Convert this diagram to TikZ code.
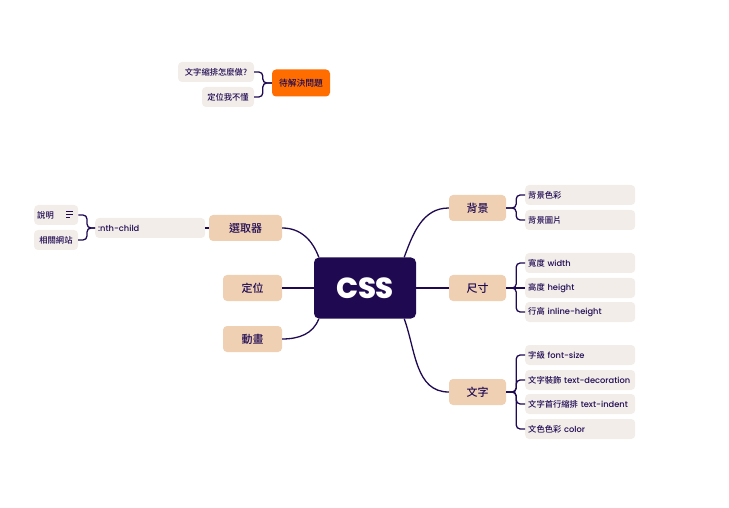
\documentclass[tikz,border=0pt]{standalone}
\usepackage{fontspec}
\setmainfont{Noto Sans CJK TC}[UprightFont={* Medium}]
\newfontfamily\pop{Poppins}[UprightFont={* Medium}]
\definecolor{ink}{HTML}{1F0A52}
\definecolor{peach}{HTML}{EFD0B3}
\definecolor{paper}{HTML}{F2EDE9}
\definecolor{warn}{HTML}{FF6D00}

\tikzstyle{root}   = [fill=ink, text=white, rounded corners=5pt, minimum width=102pt, minimum height=61pt, font=\pop\bfseries\fontsize{29}{29}\selectfont]
\tikzstyle{topic}  = [fill=peach, text=ink, rounded corners=4pt, minimum height=26pt, inner sep=0pt, font=\fontsize{11}{11}\selectfont]
\tikzstyle{leaf}   = [fill=paper, text=ink, rounded corners=4pt, minimum height=20pt, inner xsep=3pt, inner ysep=0pt, font=\fontsize{8.3}{8.3}\selectfont]
\tikzstyle{wide}   = [leaf, anchor=west, text width=104pt, align=left]
\tikzstyle{link}   = [draw=ink, line width=1.3pt]

\begin{document}
\begin{tikzpicture}[x=1pt, y=1pt]
  \useasboundingbox (0,0) rectangle (729,507);
  % centre and main topics
  \node[root] (css) at (365,219) {CSS};
  \node[topic, minimum width=73pt] (sel)  at (245.5,279) {選取器};
  \node[topic, minimum width=59pt] (pos)  at (252.5,219) {定位};
  \node[topic, minimum width=59pt] (anim) at (252.5,168) {動畫};
  \node[topic, minimum width=57pt] (bg)   at (477.5,299) {背景};
  \node[topic, minimum width=57pt] (dim)  at (477.5,219) {尺寸};
  \node[topic, minimum width=57pt] (txt)  at (477.5,115) {文字};

  % leaves on the right
  \node[wide] (bgcolor) at (525,312) {背景色彩};
  \node[wide] (bgimage) at (525,287) {背景圖片};
  \node[wide] (wdt)     at (525,244) {寬度 {\pop width}};
  \node[wide] (hgt)     at (525,219) {高度 {\pop height}};
  \node[wide] (lhgt)    at (525,195) {行高 {\pop inline-height}};
  \node[wide] (fsize)   at (525,152) {字級 {\pop font-size}};
  \node[wide] (tdeco)   at (525,127) {文字裝飾 {\pop text-decoration}};
  \node[wide] (tind)    at (525,103) {文字首行縮排 {\pop text-indent}};
  \node[wide] (tcol)    at (525,78)  {文色色彩 {\pop color}};

  % selector branch
  \node[wide] (nth) at (95,279) {\pop :nth-child};
  \node[leaf, anchor=west, text width=38pt, align=left] (note)  at (34,292) {說明};
  \node[leaf, minimum width=44pt] (sites) at (56,267) {相關網站};
  \draw[ink, line width=0.6pt] (66,296) -- (73,296) (66,293) -- (73,293) (66,290) -- (70,290);

  % open questions
  \node[topic, fill=warn, minimum width=58pt, minimum height=27pt, font=\fontsize{8.8}{8.8}\selectfont] (todo) at (301,424) {待解決問題};
  \node[leaf, minimum width=76pt] (q1) at (216,435) {文字縮排怎麼做?};
  \node[leaf, minimum width=52pt] (q2) at (228,410) {定位我不懂};

  % connectors
  \draw[link] (sel.east) to[out=0, in=110] ([xshift=5pt]css.north west);
  \draw[link] (pos.east) -- (css.west);
  \draw[link] (anim.east) to[out=0, in=-110] ([xshift=5pt]css.south west);
  \draw[link] (bg.west) to[out=180, in=70] ([xshift=-12pt]css.north east);
  \draw[link] (dim.west) -- (css.east);
  \draw[link] (txt.west) to[out=180, in=-70] ([xshift=-12pt]css.south east);

  \draw[link, rounded corners=4pt] (bg.east) -- ++(10,0) |- (bgcolor.west);
  \draw[link, rounded corners=4pt] (bg.east) -- ++(10,0) |- (bgimage.west);
  \draw[link, rounded corners=4pt] (dim.east) -- ++(10,0) |- (wdt.west);
  \draw[link] (dim.east) -- (hgt.west);
  \draw[link, rounded corners=4pt] (dim.east) -- ++(10,0) |- (lhgt.west);
  \foreach \leafname in {fsize, tdeco, tind, tcol}
    \draw[link, rounded corners=4pt] (txt.east) -- ++(10,0) |- (\leafname.west);

  \draw[link] (nth.east) -- (sel.west);
  \draw[link, rounded corners=4pt] (nth.west) -- ++(-8,0) |- (note.east);
  \draw[link, rounded corners=4pt] (nth.west) -- ++(-8,0) |- (sites.east);
  \draw[link, rounded corners=4pt] (todo.west) -- ++(-9,0) |- (q1.east);
  \draw[link, rounded corners=4pt] (todo.west) -- ++(-9,0) |- (q2.east);
\end{tikzpicture}
\end{document}
